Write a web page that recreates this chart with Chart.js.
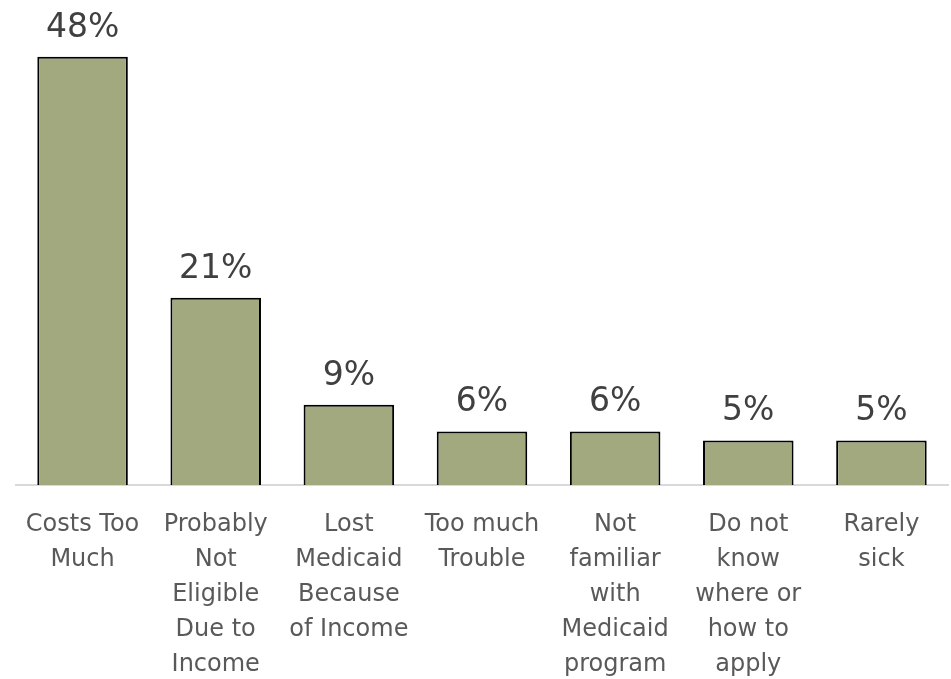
<!DOCTYPE html>
<html>
<head>
<meta charset="utf-8">
<script src="https://cdn.jsdelivr.net/npm/chart.js@4"></script>
<style>
html,body{margin:0;padding:0;background:#fff;}
#wrap{width:951px;height:679px;}
</style>
</head>
<body>
<div id="wrap"><canvas id="c" width="951" height="679"></canvas></div>
<script>
const categories = [
  ["Costs Too", "Much"],
  ["Probably", "Not", "Eligible", "Due to", "Income"],
  ["Lost", "Medicaid", "Because", "of Income"],
  ["Too much", "Trouble"],
  ["Not", "familiar", "with", "Medicaid", "program"],
  ["Do not", "know", "where or", "how to", "apply"],
  ["Rarely", "sick"]
];
const values = [48, 21, 9, 6, 6, 5, 5];
const valueLabels = ["48%", "21%", "9%", "6%", "6%", "5%", "5%"];

const FONT = "'DejaVu Sans', sans-serif";

const valuePlugin = {
  id: 'valueLabels',
  afterDatasetsDraw(chart) {
    const ctx = chart.ctx;
    const meta = chart.getDatasetMeta(0);
    ctx.save();
    ctx.font = "33px " + FONT;
    ctx.fillStyle = "#404040";
    ctx.textAlign = "center";
    ctx.textBaseline = "alphabetic";
    meta.data.forEach((bar, i) => {
      ctx.fillText(valueLabels[i], bar.x, bar.y - 20);
    });
    ctx.restore();
  }
};

new Chart(document.getElementById('c'), {
  type: 'bar',
  data: {
    labels: categories,
    datasets: [{
      data: values,
      backgroundColor: '#a3a97f',
      borderColor: '#000000',
      borderWidth: 2,
      borderSkipped: 'bottom',
      categoryPercentage: 1,
      barPercentage: 0.68
    }]
  },
  options: {
    responsive: false,
    animation: false,
    devicePixelRatio: 1,
    layout: { padding: { left: 16, right: 3, top: 39, bottom: 0 } },
    plugins: { legend: { display: false }, tooltip: { enabled: false } },
    scales: {
      y: { display: false, min: 0, max: 50 },
      x: {
        grid: { display: false, drawTicks: false },
        border: { display: true, color: '#d9d9d9', width: 2 },
        ticks: {
          color: '#595959',
          font: { family: FONT, size: 24, lineHeight: 1.46 },
          padding: 22,
          maxRotation: 0,
          autoSkip: false
        },
        afterFit(scale) { scale.height = 194; }
      }
    }
  },
  plugins: [valuePlugin]
});
</script>
</body>
</html>
